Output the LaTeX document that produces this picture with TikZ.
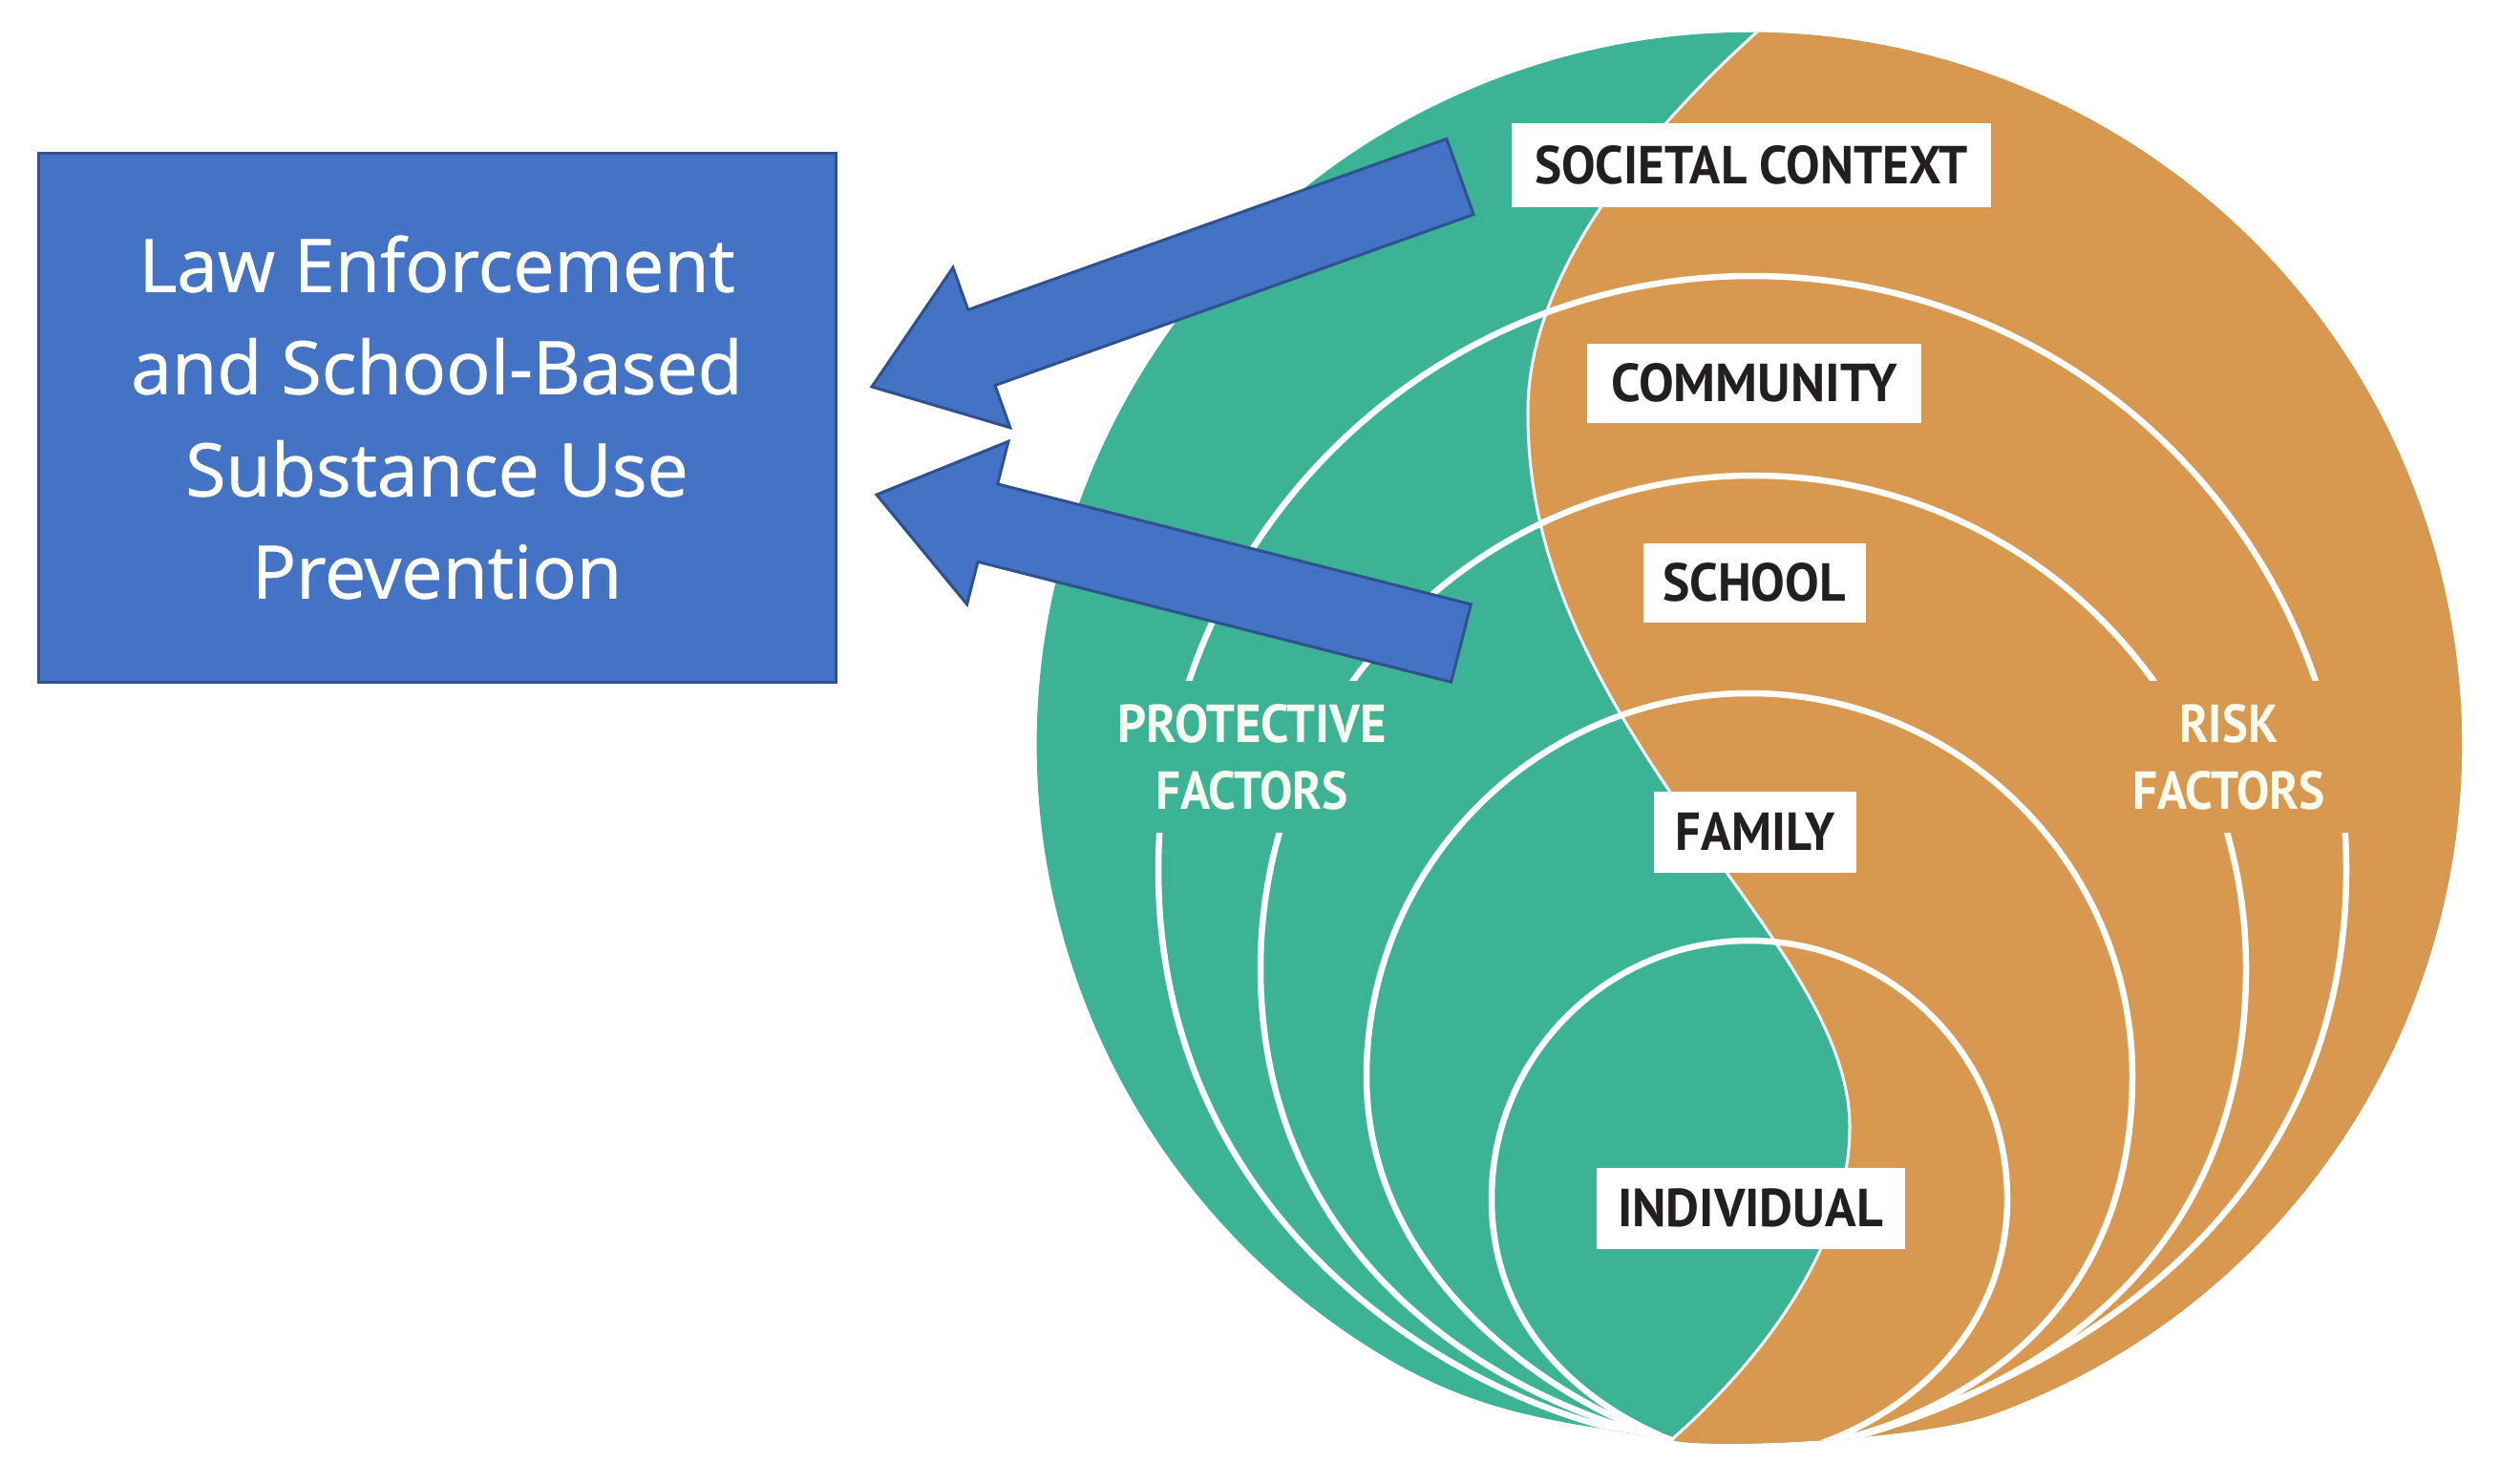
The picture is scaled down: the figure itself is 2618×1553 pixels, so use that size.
\documentclass[tikz,border=0pt]{standalone}
\usepackage{fontspec}
\usepackage{graphicx}
\setmainfont{Open Sans}
\newfontfamily\boxfont{Open Sans}[FakeBold=0.9]
\newfontfamily\labfont{PT Sans}
\usetikzlibrary{calc}
\definecolor{pgreen}{RGB}{59,179,148}
\definecolor{porange}{RGB}{216,152,79}
\definecolor{boxblue}{RGB}{68,114,196}
\definecolor{boxedge}{RGB}{47,82,143}
\definecolor{labtext}{RGB}{35,31,32}
\definecolor{factortext}{RGB}{248,252,240}
\newcommand\fitw[2]{\resizebox{#1}{\height}{#2}}
\begin{document}
\begin{tikzpicture}[x=1pt,y=-1pt,
  archline/.style={white,line width=6.5,line cap=round},
  labbox/.style={fill=white,inner sep=0,text=labtext,font=\labfont\bfseries\fontsize{56}{60}\selectfont},
  factorlab/.style={inner sep=0,text=factortext,align=center,minimum height=159,font=\labfont\bfseries\fontsize{56}{70}\selectfont},
  blockarrow/.style={fill=boxblue,draw=boxedge,line width=3,line join=miter}]
\useasboundingbox (0,0) rectangle (2618,1553);
\fill[white] (0,0) rectangle (2618,1553);
% circle diagram
\begin{scope}
\clip (2087,1481) arc[start angle=70,end angle=-240,radius=746]
  .. controls (1563,1486) and (1650,1490) .. (1750,1508)
  .. controls (1790,1518) and (2012,1508) .. cycle;
\fill[pgreen] (1000,0) rectangle (2700,1600);
\fill[porange] (1855,-10) -- (1846,28) .. controls (1720,140) and (1598,290) .. (1600,434)
  .. controls (1600,584) and (1665,710) .. (1770,860)
  .. controls (1854,980) and (1937,1080) .. (1937,1180)
  .. controls (1937,1300) and (1850,1420) .. (1750,1508)
  -- (1750,1600) -- (2700,1600) -- (2700,-10) -- cycle;
\draw[white,line width=3] (1855,-10) -- (1846,28) .. controls (1720,140) and (1598,290) .. (1600,434)
  .. controls (1600,584) and (1665,710) .. (1770,860)
  .. controls (1854,980) and (1937,1080) .. (1937,1180)
  .. controls (1937,1300) and (1850,1420) .. (1750,1508);
% arches
\draw[archline] (1750,1508) .. controls (1540,1480) and (1213,1290) .. (1213,911)
  arc[start angle=180,end angle=360,radius=622]
  .. controls (2457,1300) and (2120,1465) .. (1880,1520);
\draw[archline] (1750,1508) .. controls (1580,1470) and (1320,1328) .. (1320,1014)
  arc[start angle=180,end angle=360,radius=516]
  .. controls (2352,1330) and (2120,1470) .. (1880,1520);
\draw[archline] (1750,1508) .. controls (1630,1470) and (1431,1340) .. (1431,1127)
  arc[start angle=180,end angle=360,radius=401]
  .. controls (2233,1360) and (2080,1480) .. (1880,1520);
\draw[archline] (1750,1508) .. controls (1680,1480) and (1562,1407) .. (1562,1255)
  arc[start angle=180,end angle=360,radius=270]
  .. controls (2102,1400) and (1990,1490) .. (1880,1520);
\end{scope}
% side labels (they interrupt the arches)
\node[factorlab,fill=pgreen,minimum width=352] (prot) at (1311,792.5)
  {\fitw{282pt}{PROTECTIVE}\\\fitw{202pt}{FACTORS}};
\node[factorlab,fill=porange,minimum width=272] (risk) at (2334,792.5)
  {\fitw{103pt}{RISK}\\\fitw{202pt}{FACTORS}};
% level labels
\node[labbox,minimum width=502,minimum height=88] (soc) at (1834,173) {\fitw{454pt}{SOCIETAL CONTEXT}};
\node[labbox,minimum width=350,minimum height=83] (com) at (1837,401) {\fitw{300pt}{COMMUNITY}};
\node[labbox,minimum width=233,minimum height=83] (sch) at (1837,610) {\fitw{192pt}{SCHOOL}};
\node[labbox,minimum width=212,minimum height=85] (fam) at (1838,871) {\fitw{167pt}{FAMILY}};
\node[labbox,minimum width=323,minimum height=85] (ind) at (1833,1265) {\fitw{278pt}{INDIVIDUAL}};
% target box
\node[draw=boxedge,fill=boxblue,line width=3,minimum width=835,minimum height=554,inner sep=0,
  text=white,align=center,font=\boxfont\fontsize{77}{107}\selectfont] (box) at (457.5,437)
  {Law Enforcement\\and School-Based\\Substance Use\\Prevention};
% block arrows
\coordinate (t1) at (1529,185);
\coordinate (p1) at (913,405);
\coordinate (b1) at ($(p1)!122pt!(t1)$);
\draw[blockarrow] ($(t1)!42pt!90:(p1)$) -- ($(b1)!42pt!90:(p1)$) -- ($(b1)!89pt!90:(p1)$)
  -- (p1) -- ($(b1)!89pt!-90:(p1)$) -- ($(b1)!42pt!-90:(p1)$) -- ($(t1)!42pt!-90:(p1)$) -- cycle;
\coordinate (t2) at (1530,673.5);
\coordinate (p2) at (918,518);
\coordinate (b2) at ($(p2)!120pt!(t2)$);
\draw[blockarrow] ($(t2)!42pt!90:(p2)$) -- ($(b2)!42pt!90:(p2)$) -- ($(b2)!88pt!90:(p2)$)
  -- (p2) -- ($(b2)!88pt!-90:(p2)$) -- ($(b2)!42pt!-90:(p2)$) -- ($(t2)!42pt!-90:(p2)$) -- cycle;
\end{tikzpicture}
\end{document}
